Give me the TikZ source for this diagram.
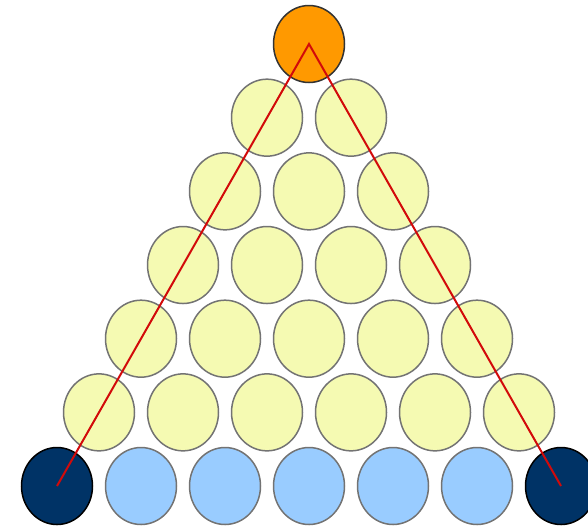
\documentclass[tikz,border=0pt]{standalone}
\usetikzlibrary{shapes.geometric}
\definecolor{ballyellow}{RGB}{245,250,178}
\definecolor{ballblue}{RGB}{153,204,255}
\definecolor{ballnavy}{RGB}{0,51,102}
\definecolor{ballorange}{RGB}{255,153,0}
\definecolor{ballgray}{RGB}{115,115,115}
\definecolor{pathred}{RGB}{210,10,10}
\tikzset{ball/.style={ellipse,draw=ballgray,line width=1.5pt,minimum width=71pt,minimum height=77pt,inner sep=0pt}}
\begin{document}
\begin{tikzpicture}[x=1pt,y=-1pt]
\useasboundingbox (0,0) rectangle (588,528);
\node[ball,fill=ballorange,draw=black!80] (top) at (309,44) {};
\foreach \r in {1,...,5}
  \foreach \i in {0,...,\r}
    \node[ball,fill=ballyellow] (b\r\i) at ({309-42*\r+84*\i},{44+73.67*\r}) {};
\foreach \i in {1,...,5}
  \node[ball,fill=ballblue] (b6\i) at ({57+84*\i},486) {};
\node[ball,fill=ballnavy,draw=black] (left) at (57,486) {};
\node[ball,fill=ballnavy,draw=black] (right) at (561,486) {};
\draw[pathred,line width=2pt] (left.center) -- (top.center) -- (right.center);
\end{tikzpicture}
\end{document}
